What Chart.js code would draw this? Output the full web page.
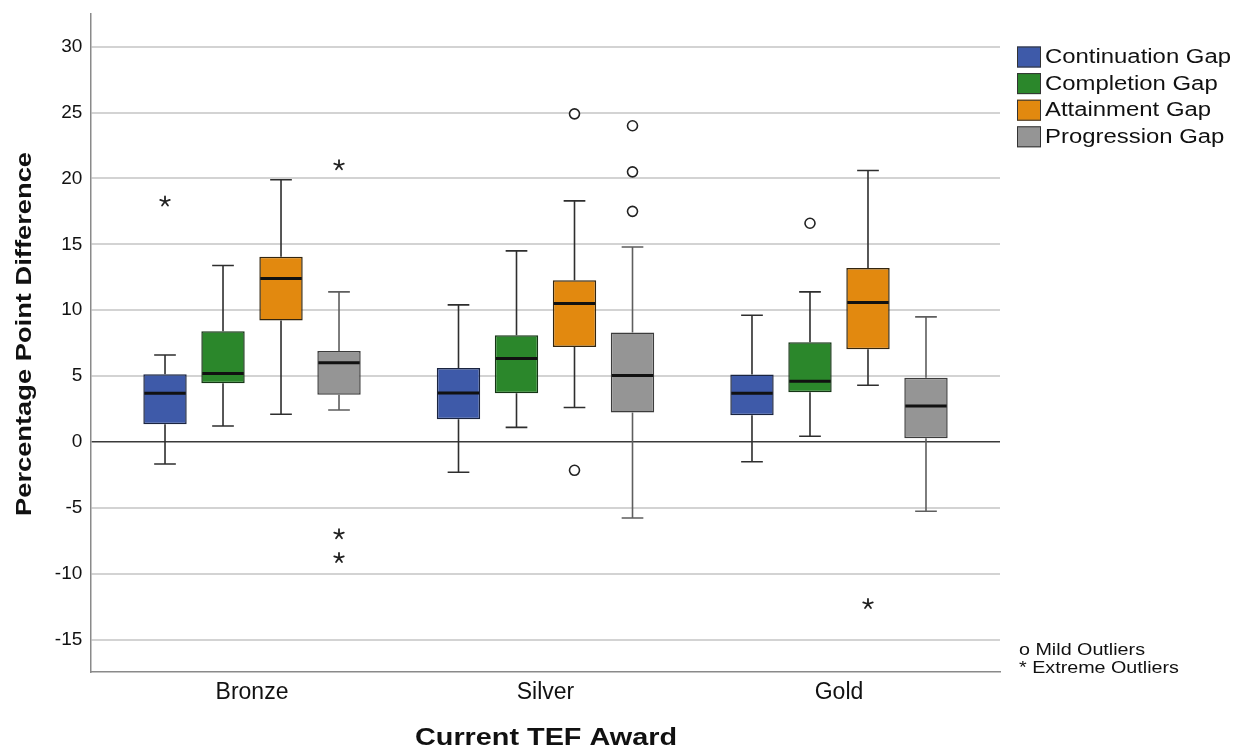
<!DOCTYPE html>
<html><head><meta charset="utf-8">
<script src="https://cdn.jsdelivr.net/npm/chart.js@4.4.0/dist/chart.umd.min.js"></script>
<style>html,body{margin:0;padding:0;background:#fff;}#wrap{width:1235px;height:748px;}</style>
</head><body><div id="wrap"><canvas id="c" width="1235" height="748"></canvas></div>
<script>
// ---- data ----
const categories = ['Bronze', 'Silver', 'Gold'];
const seriesNames = ['Continuation Gap', 'Completion Gap', 'Attainment Gap', 'Progression Gap'];
const yTickValues = [-15, -10, -5, 0, 5, 10, 15, 20, 25, 30];

const continuationMin = [-1.67, -2.3, -1.5];
const continuationQ1 = [1.34, 1.72, 2.03];
const continuationMedian = [3.7, 3.72, 3.7];
const continuationQ3 = [5.14, 5.62, 5.11];
const continuationMax = [6.6, 10.4, 9.62];
const continuationMild = [[], [], []];
const continuationExtreme = [[18.25], [], []];

const completionMin = [1.21, 1.11, 0.43];
const completionQ1 = [4.45, 3.7, 3.77];
const completionMedian = [5.2, 6.33, 4.61];
const completionQ3 = [8.4, 8.1, 7.57];
const completionMax = [13.39, 14.5, 11.39];
const completionMild = [[], [], [16.6]];
const completionExtreme = [[], [], []];

const attainmentMin = [2.1, 2.61, 4.3];
const attainmentQ1 = [9.21, 7.21, 7.04];
const attainmentMedian = [12.4, 10.5, 10.58];
const attainmentQ3 = [14.05, 12.28, 13.21];
const attainmentMax = [19.9, 18.3, 20.6];
const attainmentMild = [[], [24.9, -2.15], []];
const attainmentExtreme = [[], [], [-12.3]];

const progressionMin = [2.43, -5.77, -5.26];
const progressionQ1 = [3.59, 2.23, 0.28];
const progressionMedian = [6.02, 5.04, 2.73];
const progressionQ3 = [6.91, 8.3, 4.88];
const progressionMax = [11.39, 14.8, 9.49];
const progressionMild = [[], [24.0, 20.5, 17.5], []];
const progressionExtreme = [[21.0, -7.0, -8.8], [], []];

const seriesColors = ['#3e5aa9', '#2b872b', '#e2890f', '#959595'];
const boxBorderColors = ['#1a2440', '#153515', '#33250e', '#3c3c3c'];
const whiskerColors = ['#2e2e2e', '#2e2e2e', '#2e2e2e', '#5e5e5e'];

const stats = [
  {min: continuationMin, q1: continuationQ1, med: continuationMedian, q3: continuationQ3, max: continuationMax, mild: continuationMild, ext: continuationExtreme},
  {min: completionMin, q1: completionQ1, med: completionMedian, q3: completionQ3, max: completionMax, mild: completionMild, ext: completionExtreme},
  {min: attainmentMin, q1: attainmentQ1, med: attainmentMedian, q3: attainmentQ3, max: attainmentMax, mild: attainmentMild, ext: attainmentExtreme},
  {min: progressionMin, q1: progressionQ1, med: progressionMedian, q3: progressionQ3, max: progressionMax, mild: progressionMild, ext: progressionExtreme}
];

const FONT = "'Liberation Sans', Arial, Helvetica, sans-serif";

function drawStretched(ctx, text, x, y, font, sx, align, rotate, color) {
  ctx.save();
  ctx.font = font;
  ctx.fillStyle = color || '#111';
  ctx.translate(x, y);
  if (rotate) ctx.rotate(-Math.PI / 2);
  ctx.scale(sx, 1);
  ctx.textAlign = align;
  ctx.textBaseline = 'middle';
  ctx.fillText(text, 0, 0);
  ctx.restore();
}
function scaleFor(ctx, text, font, target) {
  ctx.save(); ctx.font = font; const w = ctx.measureText(text).width; ctx.restore();
  return target / w;
}
function drawAsterisk(ctx, cx, cy) {
  ctx.save();
  ctx.strokeStyle = '#222'; ctx.lineWidth = 1.8; ctx.lineCap = 'round';
  ctx.beginPath();
  for (let k = 0; k < 5; k++) {
    const a = -Math.PI / 2 + k * 2 * Math.PI / 5;
    ctx.moveTo(cx, cy);
    ctx.lineTo(cx + 5 * Math.cos(a), cy + 5 * Math.sin(a));
  }
  ctx.stroke();
  ctx.restore();
}

const boxPlugin = {
  id: 'boxExtras',
  afterDatasetsDraw(chart) {
    const ctx = chart.ctx, ys = chart.scales.y;
    stats.forEach((st, s) => {
      const meta = chart.getDatasetMeta(s);
      meta.data.forEach((bar, i) => {
        const cx = bar.x, w = bar.width, cap = w / 4;
        const yMin = ys.getPixelForValue(st.min[i]);
        const yMax = ys.getPixelForValue(st.max[i]);
        const yQ1 = ys.getPixelForValue(st.q1[i]);
        const yQ3 = ys.getPixelForValue(st.q3[i]);
        const yMed = ys.getPixelForValue(st.med[i]);
        ctx.save();
        ctx.strokeStyle = whiskerColors[s];
        ctx.lineWidth = 1.6;
        ctx.beginPath();
        ctx.moveTo(cx, yQ3); ctx.lineTo(cx, yMax);
        ctx.moveTo(cx - cap, yMax); ctx.lineTo(cx + cap, yMax);
        ctx.moveTo(cx, yQ1); ctx.lineTo(cx, yMin);
        ctx.moveTo(cx - cap, yMin); ctx.lineTo(cx + cap, yMin);
        ctx.stroke();
        ctx.strokeStyle = '#111';
        ctx.lineWidth = 3;
        ctx.beginPath();
        ctx.moveTo(cx - w / 2 + 1, yMed); ctx.lineTo(cx + w / 2 - 1, yMed);
        ctx.stroke();
        st.mild[i].forEach(v => {
          const py = ys.getPixelForValue(v);
          ctx.beginPath();
          ctx.arc(cx, py, 5, 0, Math.PI * 2);
          ctx.fillStyle = '#fff'; ctx.fill();
          ctx.strokeStyle = '#222'; ctx.lineWidth = 1.6; ctx.stroke();
        });
        st.ext[i].forEach(v => drawAsterisk(ctx, cx, ys.getPixelForValue(v)));
        ctx.restore();
      });
    });
  },
  afterDraw(chart) {
    const ctx = chart.ctx;
    // axis titles
    const yFont = 'bold 22px ' + FONT;
    drawStretched(ctx, 'Percentage Point Difference', 25, 334, yFont,
      scaleFor(ctx, 'Percentage Point Difference', yFont, 364), 'center', true, '#111');
    const xFont = 'bold 24px ' + FONT;
    drawStretched(ctx, 'Current TEF Award', 546, 738, xFont,
      scaleFor(ctx, 'Current TEF Award', xFont, 262), 'center', false, '#111');
    // legend
    const lFont = '20px ' + FONT;
    const lsx = scaleFor(ctx, seriesNames[0], lFont, 186);
    seriesNames.forEach((name, k) => {
      const top = 46.5 + 26.6 * k;
      ctx.save();
      ctx.fillStyle = seriesColors[k];
      ctx.fillRect(1017, top, 24, 21);
      ctx.strokeStyle = '#333'; ctx.lineWidth = 1;
      ctx.strokeRect(1017.5, top + 0.5, 23, 20);
      ctx.restore();
      drawStretched(ctx, name, 1045, top + 11, lFont, lsx, 'left', false, '#111');
    });
    const oFont = '17px ' + FONT;
    const osx = scaleFor(ctx, 'o Mild Outliers', oFont, 126);
    drawStretched(ctx, 'o Mild Outliers', 1019, 650, oFont, osx, 'left', false, '#111');
    drawStretched(ctx, '* Extreme Outliers', 1019, 668, oFont, osx, 'left', false, '#111');
  }
};

const datasets = stats.map((st, s) => ({
  type: 'bar',
  label: seriesNames[s],
  data: categories.map((c, i) => ({x: i, y: [st.q1[i], st.q3[i]]})),
  backgroundColor: seriesColors[s],
  borderColor: boxBorderColors[s],
  borderWidth: 1.5,
  borderSkipped: false,
  categoryPercentage: 0.7905,
  barPercentage: 0.748
}));

new Chart(document.getElementById('c'), {
  type: 'bar',
  data: {datasets},
  plugins: [boxPlugin],
  options: {
    responsive: false,
    animation: false,
    devicePixelRatio: 1,
    layout: {padding: {left: 0, top: 14, right: 235, bottom: 0}},
    plugins: {legend: {display: false}, tooltip: {enabled: false}},
    scales: {
      x: {
        type: 'linear',
        offset: false,
        min: -0.551,
        max: 2.5486,
        afterBuildTicks: s => { s.ticks = categories.map((c, i) => ({value: i})); },
        afterFit: s => { s.height = 76; s.paddingLeft = 0; s.paddingRight = 0; },
        grid: {display: false, drawTicks: false},
        border: {display: true, color: '#8a8a8a', width: 1.5},
        ticks: {
          callback: v => categories[v] !== undefined ? categories[v] : '',
          font: {family: FONT, size: 23},
          color: '#111',
          padding: 7,
          maxRotation: 0,
          autoSkip: false
        }
      },
      y: {
        type: 'linear',
        min: -17.46,
        max: 32.48,
        afterBuildTicks: s => { s.ticks = yTickValues.map(v => ({value: v})); },
        afterFit: s => { s.width = 90.3; s.paddingTop = 0; s.paddingBottom = 0; },
        grid: {
          drawTicks: false,
          color: c => (c.tick && c.tick.value === 0) ? '#3a3a3a' : '#d3d3d3',
          lineWidth: c => (c.tick && c.tick.value === 0) ? 1.5 : 2
        },
        border: {display: true, color: '#8a8a8a', width: 1.5},
        ticks: {
          font: {family: FONT, size: 19},
          color: '#111',
          padding: 8
        }
      }
    }
  }
});
</script>
</body></html>
